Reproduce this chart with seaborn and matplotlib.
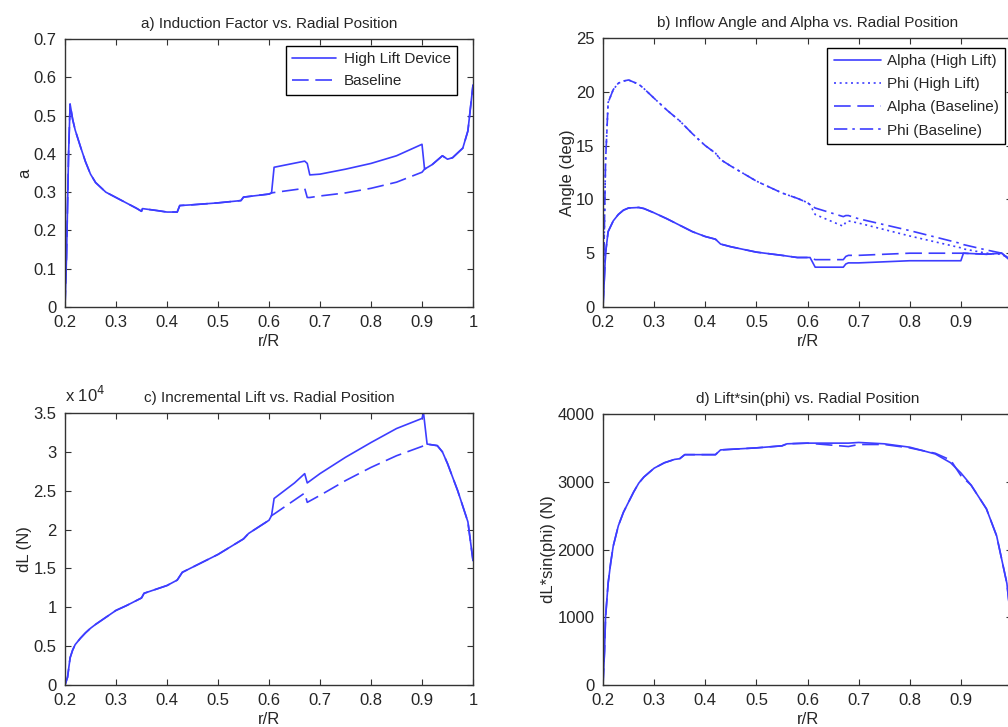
import numpy as np
import pandas as pd
import matplotlib
matplotlib.use("Agg")
import matplotlib.pyplot as plt
import seaborn as sns
from matplotlib.ticker import FuncFormatter

# a) induction factor
r_a = [0.2, 0.203, 0.207, 0.21, 0.215, 0.22, 0.23, 0.24, 0.25, 0.26, 0.28, 0.3, 0.32, 0.34, 0.35,
       0.352, 0.38, 0.4, 0.42, 0.425, 0.45, 0.5, 0.545, 0.55, 0.6, 0.605, 0.61, 0.67, 0.675, 0.68,
       0.7, 0.75, 0.8, 0.85, 0.9, 0.905, 0.92, 0.94, 0.95, 0.96, 0.98, 0.99, 1.0]
a_high = [0.0, 0.13, 0.40, 0.53, 0.49, 0.462, 0.42, 0.38, 0.347, 0.325, 0.30, 0.286, 0.272, 0.258, 0.25,
          0.257, 0.252, 0.248, 0.248, 0.265, 0.267, 0.272, 0.278, 0.287, 0.295, 0.298, 0.365, 0.381, 0.375, 0.345,
          0.347, 0.36, 0.375, 0.395, 0.425, 0.36, 0.372, 0.395, 0.386, 0.39, 0.415, 0.46, 0.58]
a_base = [0.0, 0.13, 0.40, 0.53, 0.49, 0.462, 0.42, 0.38, 0.347, 0.325, 0.30, 0.286, 0.272, 0.258, 0.25,
          0.257, 0.252, 0.248, 0.248, 0.265, 0.267, 0.272, 0.278, 0.287, 0.295, 0.298, 0.299, 0.31, 0.286, 0.286,
          0.29, 0.298, 0.31, 0.326, 0.352, 0.36, 0.372, 0.395, 0.386, 0.39, 0.415, 0.46, 0.58]

# b) angles (deg)
r_b = [0.2, 0.205, 0.21, 0.22, 0.23, 0.24, 0.25, 0.27, 0.28, 0.3, 0.325, 0.35, 0.375, 0.4, 0.42, 0.43,
       0.45, 0.475, 0.5, 0.55, 0.58, 0.6, 0.605, 0.615, 0.67, 0.675, 0.68, 0.7, 0.8, 0.9, 0.905, 0.95,
       0.98, 1.0]
alpha_high = [0.0, 5.0, 7.0, 8.0, 8.6, 9.0, 9.2, 9.25, 9.15, 8.75, 8.2, 7.6, 7.0, 6.55, 6.3, 5.85,
              5.6, 5.35, 5.1, 4.8, 4.6, 4.6, 4.6, 3.7, 3.7, 4.0, 4.1, 4.1, 4.3, 4.3, 5.0, 4.9,
              5.0, 4.2]
phi_high = [0.0, 13.5, 19.0, 20.2, 20.8, 21.0, 21.1, 20.7, 20.3, 19.4, 18.3, 17.3, 16.1, 15.0, 14.3, 13.7,
            13.1, 12.4, 11.7, 10.6, 10.1, 9.7, 9.5, 8.6, 7.5, 7.9, 8.0, 7.8, 6.6, 5.5, 5.4, 5.0,
            4.9, 4.3]
alpha_base = [0.0, 5.0, 7.0, 8.0, 8.6, 9.0, 9.2, 9.25, 9.15, 8.75, 8.2, 7.6, 7.0, 6.55, 6.3, 5.85,
              5.6, 5.35, 5.1, 4.8, 4.6, 4.6, 4.6, 4.4, 4.4, 4.7, 4.8, 4.8, 5.0, 5.0, 5.0, 4.9,
              5.0, 4.2]
phi_base = [0.0, 13.5, 19.0, 20.2, 20.8, 21.0, 21.1, 20.7, 20.3, 19.4, 18.3, 17.3, 16.1, 15.0, 14.3, 13.7,
            13.1, 12.4, 11.7, 10.6, 10.1, 9.7, 9.5, 9.2, 8.4, 8.5, 8.5, 8.2, 7.1, 5.9, 5.8, 5.3,
            5.0, 4.3]

# c) incremental lift (N)
r_c = [0.2, 0.205, 0.21, 0.215, 0.22, 0.23, 0.24, 0.25, 0.26, 0.28, 0.3, 0.32, 0.35, 0.355, 0.4, 0.42,
       0.43, 0.5, 0.55, 0.56, 0.6, 0.605, 0.61, 0.65, 0.67, 0.675, 0.7, 0.75, 0.8, 0.85, 0.9, 0.903,
       0.91, 0.93, 0.94, 0.95, 0.97, 0.98, 0.99, 1.0]
dl_high = [0, 1000, 3500, 4500, 5200, 6000, 6700, 7300, 7800, 8700, 9600, 10200, 11200, 11800, 12800, 13500,
           14500, 16800, 18800, 19500, 21200, 21800, 24000, 26000, 27200, 26000, 27200, 29300, 31200, 33000,
           34300, 35000, 31000, 30800, 30000, 28500, 25000, 23000, 21000, 16000]
dl_base = [0, 1000, 3500, 4500, 5200, 6000, 6700, 7300, 7800, 8700, 9600, 10200, 11200, 11800, 12800, 13500,
           14500, 16800, 18800, 19500, 21200, 21800, 22000, 23800, 24700, 23500, 24400, 26300, 28000, 29500,
           30700, 30800, 31000, 30800, 30000, 28500, 25000, 23000, 21000, 16000]

# d) lift*sin(phi) (N)
r_d = [0.2, 0.203, 0.205, 0.21, 0.215, 0.22, 0.23, 0.24, 0.25, 0.26, 0.27, 0.28, 0.3, 0.32, 0.34, 0.35,
       0.36, 0.42, 0.43, 0.5, 0.55, 0.56, 0.6, 0.68, 0.7, 0.75, 0.8, 0.85, 0.88, 0.9, 0.92, 0.95,
       0.97, 0.99, 1.0]
ds_high = [0, 500, 1000, 1500, 1800, 2050, 2350, 2550, 2700, 2850, 2980, 3070, 3200, 3280, 3330, 3340,
           3400, 3400, 3470, 3500, 3530, 3560, 3570, 3570, 3580, 3560, 3510, 3410, 3280, 3130, 2950, 2600,
           2200, 1500, 800]
ds_base = [0, 500, 1000, 1500, 1800, 2050, 2350, 2550, 2700, 2850, 2980, 3070, 3200, 3280, 3330, 3340,
           3400, 3400, 3470, 3500, 3530, 3560, 3570, 3520, 3550, 3550, 3500, 3420, 3320, 3090, 2950, 2600,
           2200, 1500, 800]

blue = "#3d3dff"
dash = (0, (10, 4))
dot = (0, (1.2, 2.2))
dashdot = (0, (8, 3, 1.5, 3))

sns.set_style("ticks")
plt.rcParams["font.family"] = ["Liberation Sans", "DejaVu Sans"]
plt.rcParams["xtick.direction"] = "in"
plt.rcParams["ytick.direction"] = "in"

fig = plt.figure(figsize=(10.08, 7.27), dpi=100)
W, H = 1008, 727


def make_ax(left, top, right, bottom):
    return fig.add_axes([left / W, (H - bottom) / H, (right - left) / W, (bottom - top) / H])


ax_a = make_ax(65, 39, 473, 307)
ax_b = make_ax(603, 38, 1012, 307)
ax_c = make_ax(65, 413, 473, 685)
ax_d = make_ax(603, 414, 1012, 685)


def line(ax, x, y, ls, label=None):
    sns.lineplot(x=x, y=y, ax=ax, color=blue, linewidth=1.2, linestyle=ls,
                 sort=False, estimator=None, label=label)


line(ax_a, r_a, a_base, dash, "Baseline")
line(ax_a, r_a, a_high, "-", "High Lift Device")
h, l = ax_a.get_legend_handles_labels()
ax_a.legend(h[::-1], l[::-1], loc="upper right", bbox_to_anchor=(0.961, 0.974),
            borderaxespad=0, fontsize=11, labelspacing=0.55, handlelength=2.9, handletextpad=0.5)

line(ax_b, r_b, alpha_high, "-", "Alpha (High Lift)")
line(ax_b, r_b, phi_high, dot, "Phi (High Lift)")
line(ax_b, r_b, alpha_base, dash, "Alpha (Baseline)")
line(ax_b, r_b, phi_base, dashdot, "Phi (Baseline)")
ax_b.legend(loc="upper right", bbox_to_anchor=(0.983, 0.963), borderaxespad=0, fontsize=11,
            labelspacing=0.6, handlelength=3.1, handletextpad=0.4)

line(ax_c, r_c, dl_base, dash)
line(ax_c, r_c, dl_high, "-")

line(ax_d, r_d, ds_base, dash)
line(ax_d, r_d, ds_high, "-")

titles = ["a) Induction Factor vs. Radial Position",
          "b) Inflow Angle and Alpha vs. Radial Position",
          "c) Incremental Lift vs. Radial Position",
          "d) Lift*sin(phi) vs. Radial Position"]
ylabels = ["a", "Angle (deg)", "dL (N)", "dL*sin(phi) (N)"]
ylims = [(0, 0.7), (0, 25), (0, 35000), (0, 4000)]
yticks = [np.arange(0, 0.71, 0.1), np.arange(0, 26, 5), np.arange(0, 35001, 5000), np.arange(0, 4001, 1000)]
xfmt_full = FuncFormatter(lambda v, p: f"{v:g}")
# right-hand panels run past the page edge, so their last label is not seen
xfmt_cut = FuncFormatter(lambda v, p: "" if v > 0.99 else f"{v:g}")

for ax, t, yl, lim, yt in zip([ax_a, ax_b, ax_c, ax_d], titles, ylabels, ylims, yticks):
    ax.set_xlim(0.2, 1.0)
    ax.set_ylim(*lim)
    ax.set_xticks(np.arange(0.2, 1.01, 0.1))
    ax.set_yticks(yt)
    ax.xaxis.set_major_formatter(xfmt_full if ax in (ax_a, ax_c) else xfmt_cut)
    ax.set_title(t, fontsize=11, pad=8)
    ax.set_xlabel("r/R", fontsize=12, labelpad=3)
    ax.set_ylabel(yl, fontsize=12, labelpad=1)
    ax.tick_params(axis="both", labelsize=12, top=True, right=True, length=4, width=0.8,
                   color="#333333", pad=6)
    for s in ax.spines.values():
        s.set_color("#333333")
        s.set_linewidth(1.0)
    leg = ax.get_legend()
    if leg is not None:
        leg.get_frame().set_edgecolor("black")
        leg.get_frame().set_boxstyle("square", pad=0)
        leg.get_frame().set_linewidth(1.0)
        leg.get_frame().set_alpha(1)
        for hd in leg.legend_handles:
            hd.set_linewidth(1.2)

ax_a.yaxis.set_major_formatter(FuncFormatter(lambda v, p: f"{v:g}"))
ax_b.yaxis.set_major_formatter(FuncFormatter(lambda v, p: f"{v:g}"))
ax_c.yaxis.set_major_formatter(FuncFormatter(lambda v, p: f"{v / 1e4:g}"))
ax_d.yaxis.set_major_formatter(FuncFormatter(lambda v, p: f"{v:g}"))
ax_c.text(0.0, 1.03, r"x 10$^{4}$", transform=ax_c.transAxes, fontsize=12, ha="left", va="bottom")

fig.savefig("out.png", dpi=100)
